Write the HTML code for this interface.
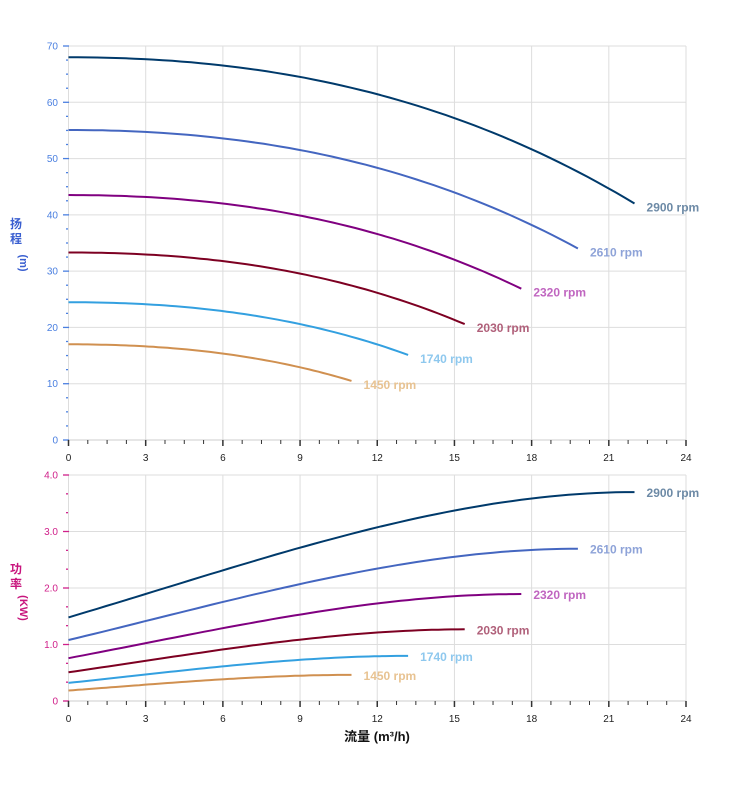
<!DOCTYPE html>
<html><head><meta charset="utf-8">
<style>
body{margin:0;background:#fff;}
svg{display:block;font-family:"Liberation Sans","Noto Sans CJK SC",sans-serif;}
</style></head>
<body>
<svg id="s" width="752" height="797" viewBox="0 0 752 797" xmlns="http://www.w3.org/2000/svg">
<g id="g"></g>
<text x="16" y="228" font-size="12" font-weight="bold" fill="#3a5fd0" text-anchor="middle">扬</text>
<text x="16" y="243" font-size="12" font-weight="bold" fill="#3a5fd0" text-anchor="middle">程</text>
<text x="0" y="0" font-size="11" font-weight="bold" fill="#3a5fd0" text-anchor="middle" transform="translate(20,263) rotate(90)">(m)</text>
<text x="16" y="573" font-size="12" font-weight="bold" fill="#c8157d" text-anchor="middle">功</text>
<text x="16" y="588" font-size="12" font-weight="bold" fill="#c8157d" text-anchor="middle">率</text>
<text x="0" y="0" font-size="11" font-weight="bold" fill="#c8157d" text-anchor="middle" transform="translate(20,608) rotate(90)">(KW)</text>
<text x="377" y="741" font-size="13" font-weight="bold" fill="#111" text-anchor="middle">流量 (m³/h)</text>
</svg>
<script>
const g=document.getElementById('g');
let h='';
const X0=68.5,X1=686,sx=q=>X0+(X1-X0)*q/24;
const tY=v=>440-v*394/70, bY=v=>701-v*226/4;
for(let i=0;i<=8;i++){const x=sx(i*3);h+=`<line x1="${x}" y1="46" x2="${x}" y2="440" stroke="#ddd"/><line x1="${x}" y1="475" x2="${x}" y2="701" stroke="#ddd"/>`;}
for(let v=10;v<=70;v+=10)h+=`<line x1="${X0}" y1="${tY(v)}" x2="${X1}" y2="${tY(v)}" stroke="#ddd"/>`;
for(let v=1;v<=4;v++)h+=`<line x1="${X0}" y1="${bY(v)}" x2="${X1}" y2="${bY(v)}" stroke="#ddd"/>`;
h+=`<line x1="${X0}" y1="440" x2="${X1}" y2="440" stroke="#ccc"/><line x1="${X0}" y1="701" x2="${X1}" y2="701" stroke="#ccc"/>`;
h+=`<line x1="${X0}" y1="46" x2="${X0}" y2="440" stroke="#ddd"/><line x1="${X0}" y1="475" x2="${X0}" y2="701" stroke="#ddd"/>`;
for(let i=0;i<=28;i++){const v=i*2.5,y=tY(v),maj=i%4==0;h+=`<line x1="${maj?63:66}" y1="${y}" x2="${maj?69:68}" y2="${y}" stroke="#4a7fe0" stroke-width="1.3"/>`;if(maj)h+=`<text x="58" y="${y+3.5}" font-size="10" fill="#4a7fe0" text-anchor="end">${v}</text>`;}
for(let i=0;i<=12;i++){const v=i/3,y=bY(v),maj=i%3==0;h+=`<line x1="${maj?63:66}" y1="${y}" x2="${maj?69:68}" y2="${y}" stroke="#d0208a" stroke-width="1.3"/>`;if(maj)h+=`<text x="58" y="${y+3.5}" font-size="10" fill="#d0208a" text-anchor="end">${v==0?'0':v.toFixed(1)}</text>`;}
for(let i=0;i<=32;i++){const q=i*0.75,x=sx(q),maj=i%4==0;[440,701].forEach(b=>{h+=`<line x1="${x}" y1="${b}" x2="${x}" y2="${b+(maj?6:4)}" stroke="#333" stroke-width="${maj?1.5:1}"/>`;if(maj)h+=`<text x="${x}" y="${b+21}" font-size="10" fill="#222" text-anchor="middle">${q}</text>`;});}
const H0=q=>68-0.0359*q*q-0.000809*q*q*q;
const P0=q=>1.48+0.135*q+0.00146*q*q-0.000137*q*q*q;
const S=[[2900,'#003a6b','#6d8aa6'],[2610,'#4466c0','#8ea3d8'],[2320,'#800080','#c066c0'],[2030,'#7d0022','#b0607a'],[1740,'#33a0e0','#8ec8ee'],[1450,'#d09050','#e8c392']];
S.forEach(([n,c,lc])=>{const r=n/2900,qm=22*r;let a=[],b=[];
for(let k=0;k<=60;k++){const q=qm*k/60;a.push(sx(q).toFixed(1)+','+tY(r*r*H0(q/r)).toFixed(1));b.push(sx(q).toFixed(1)+','+bY(r*r*r*P0(q/r)).toFixed(1));}
h+=`<polyline points="${a.join(' ')}" fill="none" stroke="${c}" stroke-width="2"/>`;
h+=`<polyline points="${b.join(' ')}" fill="none" stroke="${c}" stroke-width="2"/>`;
const ex=sx(qm);
h+=`<text x="${ex+12}" y="${tY(r*r*H0(22))+8}" font-size="12" font-weight="bold" fill="${lc}">${n} rpm</text>`;
h+=`<text x="${ex+12}" y="${bY(r*r*r*P0(22))+5}" font-size="12" font-weight="bold" fill="${lc}">${n} rpm</text>`;});
g.innerHTML=h;
</script>
</body></html>
